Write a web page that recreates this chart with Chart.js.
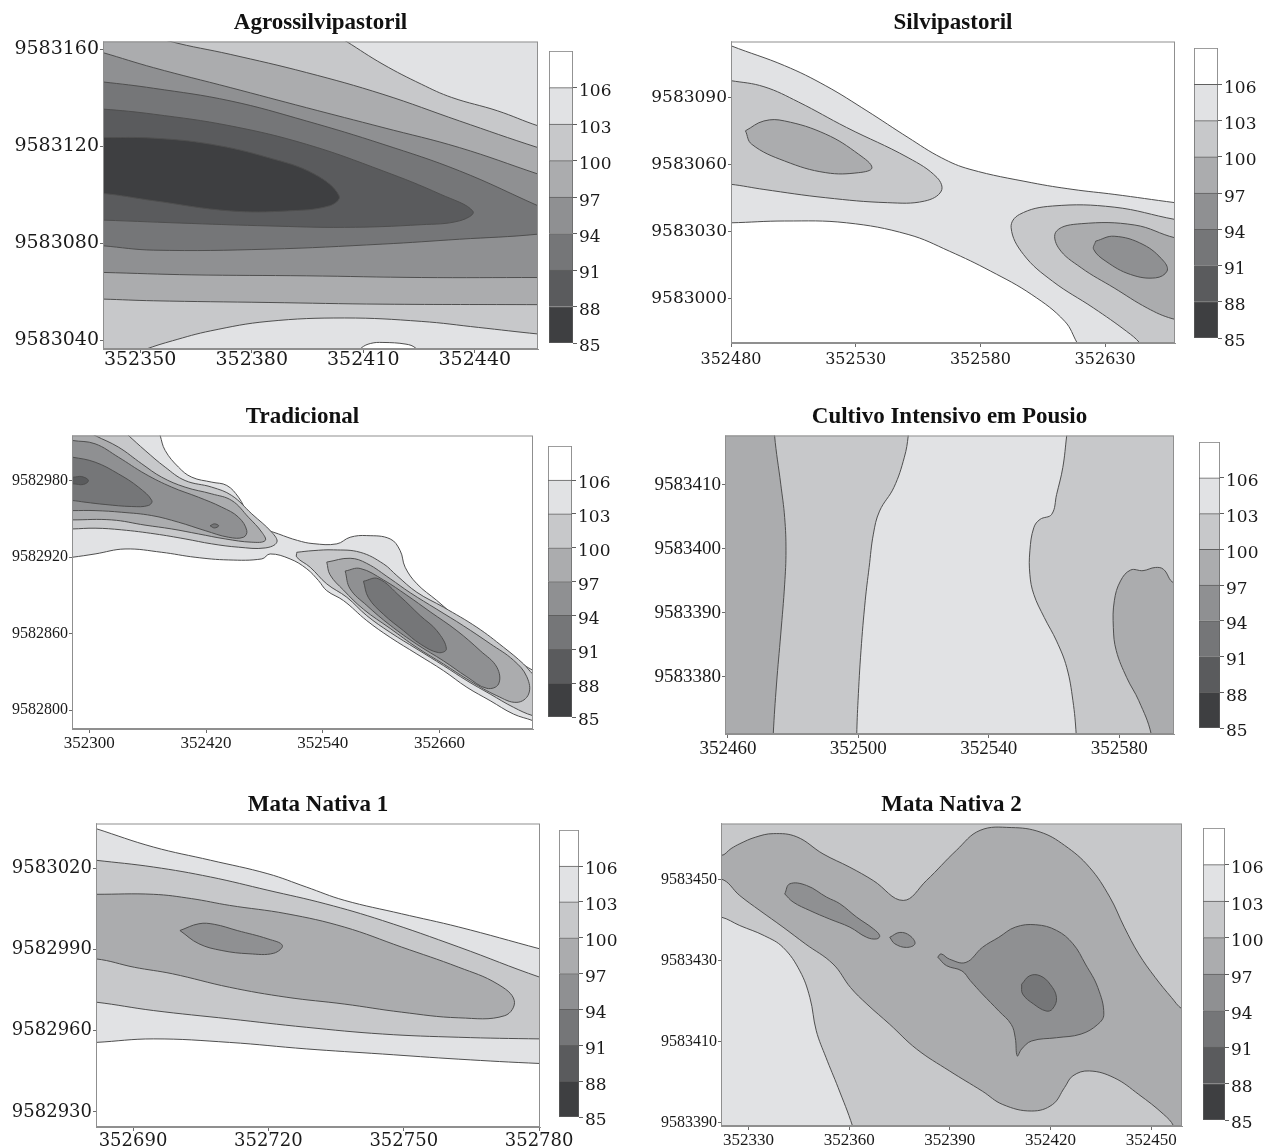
<!DOCTYPE html>
<html>
<head>
<meta charset="utf-8">
<title>Contour maps</title>
<script src="https://cdn.jsdelivr.net/npm/chart.js@4.4.1/dist/chart.umd.min.js"></script>
<style>
  body { margin: 0; background: #fff; width: 1266px; height: 1148px; position: relative; overflow: hidden; }
  canvas { position: absolute; }
</style>
</head>
<body>
<script>
// ---- data: contour regions in map coordinates (x = easting, y = northing) ----
// each shape is the region of one band, painted in list order over the base band

const cbLevels = [85, 88, 91, 94, 97, 100, 103, 106];
const cbTop = 109;

// Agrossilvipastoril
const agroXTicks = [352350, 352380, 352410, 352440];
const agroYTicks = [9583040, 9583080, 9583120, 9583160];
const agroRange = [352340, 352457, 9583036.3, 9583163.2];
const agroBase = 103;
const agroLevels = [106, 100, 97, 94, 91, 88, 85];
const agroShapes = [
  [[352407,9583033],[352409.5,9583036.8],[352412,9583038.6],[352415.3,9583039.0],[352421.5,9583038.3],[352424,9583036.8],[352426,9583033]],
  [[352330,9583175],[352398,9583175],[352401,9583167.5],[352405.5,9583163.2],[352415.3,9583153.8],[352425.6,9583145.6],[352433.8,9583140.1],[352446.1,9583134.6],[352457,9583128.4],[352465,9583125],[352470,9583100],[352465,9583041.5],[352457,9583042.5],[352441,9583045.2],[352425.6,9583047.7],[352405,9583049.1],[352384.4,9583047.7],[352369,9583043.8],[352358.7,9583039.7],[352351.5,9583036.2],[352345,9583032],[352330,9583025]],
  [[352330,9583175],[352350,9583175],[352354,9583166],[352358.2,9583163.2],[352374.2,9583157.9],[352394.7,9583150.4],[352415.3,9583141.4],[352435.9,9583130.4],[352457,9583119.4],[352465,9583116],[352470,9583090],[352465,9583054.5],[352457,9583054.6],[352415.3,9583054.8],[352384.4,9583055.5],[352353.6,9583056.2],[352340,9583056.9],[352332,9583057.2],[352325,9583070]],
  [[352325,9583165],[352332,9583162],[352340,9583158.6],[352353.6,9583152.4],[352374.2,9583144.2],[352394.7,9583135.9],[352415.3,9583127.7],[352435.9,9583119.4],[352457,9583108.5],[352465,9583104.5],[352470,9583085],[352465,9583065.8],[352457,9583065.8],[352425.6,9583065.8],[352394.7,9583066.5],[352363.9,9583066.9],[352340,9583067.9],[352332,9583068.2],[352325,9583100]],
  [[352325,9583150],[352332,9583147.6],[352340,9583146.5],[352353.6,9583143.9],[352374.2,9583138.7],[352394.7,9583130.4],[352415.3,9583120.8],[352435.9,9583109.8],[352457,9583095.4],[352465,9583090],[352465,9583086],[352457,9583083.7],[352435.9,9583081.6],[352415.3,9583079.6],[352384.4,9583077.5],[352353.6,9583077.1],[352340,9583078.9],[352332,9583080],[352325,9583110]],
  [[352330,9583136],[352340,9583135.3],[352353.6,9583133.2],[352374.2,9583128.4],[352394.7,9583120.8],[352415.3,9583109.8],[352430.7,9583100.2],[352439.5,9583093.1],[352435.9,9583089.2],[352425.6,9583087.6],[352405,9583086.5],[352384.4,9583087.1],[352363.9,9583088.1],[352340,9583089.5],[352330,9583090]],
  [[352330,9583124],[352340,9583123.6],[352353.6,9583123.3],[352369,9583120.8],[352384.4,9583115.3],[352396.8,9583108.5],[352403.5,9583099.5],[352400.9,9583095.4],[352389.6,9583093.3],[352374.2,9583093.3],[352353.6,9583097.5],[352340,9583100.5],[352330,9583101]]
];

// Silvipastoril
const silviXTicks = [352480, 352530, 352580, 352630];
const silviYTicks = [9583000, 9583030, 9583060, 9583090];
const silviRange = [352480, 352658, 9582980.3, 9583115];
const silviBase = 106;
const silviLevels = [103, 100, 97, 100, 97, 94];
const silviShapes = [
  [[352470,9583118],[352480,9583113.1],[352501.5,9583104.2],[352518,9583095.2],[352534.5,9583084.0],[352551,9583072.1],[352564.3,9583063.1],[352575.8,9583057.9],[352600.6,9583051.9],[352617.1,9583048.9],[352633.6,9583046.7],[352658,9583043.0],[352666,9583042],[352670,9583000],[352665,9582970],[352623,9582970],[352621.3,9582975.5],[352618.8,9582980.3],[352613.8,9582990.0],[352600.6,9583001.9],[352584.1,9583012.4],[352567.6,9583021.3],[352551,9583028.8],[352526.3,9583034.0],[352501.5,9583034.8],[352480,9583034.0],[352470,9583034],[352465,9583080]],
  [[352470,9583099],[352480,9583097.5],[352493.2,9583094.8],[352507,9583088],[352526.3,9583076.6],[352551,9583063.1],[352562.6,9583054.2],[352564.3,9583048.2],[352557.6,9583043.7],[352542.8,9583043.0],[352518,9583045.2],[352493.2,9583048.9],[352480,9583051.2],[352470,9583052]],
  [[352485.8,9583075.1],[352493.2,9583079.5],[352501.5,9583079.5],[352518,9583073.6],[352531.2,9583064.6],[352536.5,9583058.6],[352531.2,9583056.4],[352518,9583056.4],[352501.5,9583061.6],[352488.3,9583069.1],[352485.8,9583075.1]],
  [[352668,9583034],[352658,9583035.5],[352633.6,9583041.0],[352608.9,9583041.5],[352595.6,9583037.7],[352592.3,9583031.8],[352597.3,9583019.8],[352608.9,9583007.9],[352625.4,9582995.9],[352638.6,9582985.5],[352643.9,9582980.3],[352646,9582976],[352668,9582970]],
  [[352668,9583026],[352658,9583027.3],[352641.9,9583033.0],[352620.4,9583033.6],[352610.5,9583030.3],[352611.3,9583022.8],[352620.4,9583013.9],[352633.6,9583004.9],[352646.9,9582995.9],[352656.8,9582991.2],[352668,9582989]],
  [[352626.2,9583025.8],[352633.6,9583028.0],[352645.2,9583024.3],[352653.5,9583016.8],[352654.8,9583012.4],[352650.2,9583009.4],[352640.2,9583010.9],[352630.3,9583016.8],[352625.4,9583022.1],[352626.2,9583025.8]]
];

// Tradicional
const tradXTicks = [352300, 352420, 352540, 352660];
const tradYTicks = [9582800, 9582860, 9582920, 9582980];
const tradRange = [352282.3, 352756, 9582785.1, 9583015.3];
const tradBase = 106;
const tradLevels = [103, 100, 97, 94, 91, 88, 91, 100, 97, 94, 91];
const tradShapes = [
  [[352272,9583025],[352369,9583025],[352372.8,9583015.5],[352378,9583003.6],[352391.7,9582990.5],[352405.4,9582982.6],[352426,9582978.7],[352441.4,9582976.1],[352453.4,9582966.9],[352463.6,9582953.8],[352477.4,9582943.4],[352494.5,9582938.1],[352514,9582933],[352530,9582930.5],[352554.4,9582930.3],[352568.1,9582935.5],[352585.2,9582936.8],[352609.2,9582934.2],[352619.5,9582925],[352624.6,9582912],[352636.7,9582899],[352657,9582886],[352677.8,9582872.7],[352698.3,9582862.2],[352718.9,9582851.8],[352739.5,9582838.7],[352756,9582831],[352766,9582826],[352770,9582800],[352766,9582788],[352756,9582791.6],[352736,9582796.8],[352712,9582807.3],[352688.1,9582817.8],[352664.1,9582830.8],[352636.7,9582843.9],[352609.2,9582857],[352585.2,9582870.1],[352561.3,9582885.8],[352544.1,9582893.6],[352535.6,9582901.5],[352523.6,9582910.7],[352506.4,9582918.5],[352485.9,9582922.4],[352477.4,9582918.5],[352443.1,9582917.7],[352408.8,9582919.8],[352374.5,9582923.7],[352336.8,9582926.3],[352306,9582922.4],[352282.7,9582919.8],[352272,9582919]],
  [[352272,9583025],[352326,9583025],[352340.3,9583015.3],[352357.4,9583003.6],[352378,9582990.5],[352398.5,9582980.0],[352425.9,9582974.8],[352446.5,9582968.2],[352467.1,9582953.8],[352487.6,9582939.4],[352492.8,9582931.6],[352480.8,9582927.1],[352453.4,9582927.7],[352425.9,9582930.3],[352398.5,9582934.2],[352367.7,9582938.1],[352333.4,9582941.3],[352306,9582942.6],[352282.7,9582942.0],[352272,9582942]],
  [[352272,9583025],[352285,9583024],[352306,9583015.3],[352330,9583006.2],[352354,9582993.1],[352374.5,9582982.6],[352398.5,9582974.8],[352425.9,9582969.5],[352446.5,9582964.3],[352463.6,9582951.2],[352477.4,9582939.4],[352480.8,9582932.9],[352467.1,9582931.6],[352439.7,9582934.2],[352412.2,9582938.1],[352384.8,9582942.0],[352357.4,9582945.0],[352323.1,9582949.1],[352282.7,9582949.1],[352272,9582949]],
  [[352272,9583013],[352282.7,9583011.4],[352306,9583008.8],[352330,9582998.3],[352357.4,9582985.2],[352384.8,9582974.8],[352412.2,9582966.9],[352436.2,9582959.1],[352453.4,9582951.2],[352461.9,9582940.7],[352458.5,9582935.5],[352443.1,9582935.5],[352419.1,9582940.7],[352391.7,9582947.3],[352364.3,9582952.5],[352333.4,9582955.1],[352306,9582956.4],[352282.7,9582956.4],[352272,9582956.4]],
  [[352272,9582999],[352282.7,9582998.3],[352306,9582994.4],[352330,9582985.2],[352350.6,9582974.8],[352364.3,9582964.3],[352360.8,9582960.4],[352343.7,9582959.6],[352316.3,9582961.2],[352295.7,9582963.0],[352282.7,9582964.3],[352272,9582964.5]],
  [[352276,9582983],[352283.7,9582982.6],[352292.3,9582983.1],[352299.2,9582980.0],[352294,9582976.9],[352283.7,9582977.4],[352276,9582977.5]],
  [[352424.2,9582944.5],[352428.7,9582946],[352433,9582944.5],[352428.7,9582942.8],[352424.2,9582944.5]],
  [[352513.3,9582923.7],[352530,9582925],[352551.0,9582925.6],[352578.4,9582923.7],[352602.4,9582914.6],[352616.1,9582905.4],[352636.7,9582892.3],[352664.1,9582880.6],[352698.3,9582864.9],[352725.8,9582849.2],[352746.3,9582836.1],[352756,9582828],[352766,9582822],[352766,9582795],[352756,9582795.5],[352736.0,9582802.1],[352712.0,9582812.5],[352688.1,9582823.0],[352664.1,9582834.8],[352636.7,9582847.8],[352609.2,9582860.9],[352585.2,9582874.0],[352564.7,9582888.4],[352544.1,9582898.9],[352527.0,9582912.0],[352513.3,9582919.8],[352513.3,9582923.7]],
  [[352544.1,9582916],[352568.1,9582919],[352585.2,9582915],[352609.2,9582903],[352629.8,9582892],[352657.2,9582879],[352684.6,9582866],[352712.0,9582852],[352736.0,9582839],[352749.7,9582826],[352751.5,9582812.5],[352739.5,9582806.0],[352718.9,9582811.2],[352691.5,9582822.7],[352664.1,9582836],[352636.7,9582849],[352609.2,9582864],[352581.8,9582879],[352561.3,9582894],[352547.5,9582906],[352544.1,9582916]],
  [[352563.0,9582909],[352578.4,9582911],[352602.4,9582902],[352626.4,9582890],[352650.4,9582877],[352677.8,9582862.2],[352701.8,9582846.5],[352718.9,9582833.5],[352720.6,9582820.4],[352708.6,9582817],[352688.1,9582826],[352664.1,9582838.5],[352636.7,9582851.5],[352609.2,9582866.5],[352585.2,9582882],[352568.1,9582895],[352563.0,9582909]],
  [[352581.8,9582901],[352597,9582903],[352619.5,9582889],[352640.1,9582874],[352657.2,9582862.2],[352667,9582848],[352659,9582845],[352640.1,9582851.8],[352622.9,9582862.2],[352602.4,9582875],[352587.0,9582888],[352581.8,9582901]]
];

// Cultivo Intensivo em Pousio
const cultXTicks = [352460, 352500, 352540, 352580];
const cultYTicks = [9583380, 9583390, 9583400, 9583410];
const cultRange = [352459.1, 352596.8, 9583371.1, 9583417.7];
const cultBase = 103;
const cultLevels = [100, 97, 100, 97];
const cultShapes = [
  [[352450,9583425],[352516.5,9583425],[352515.3,9583417.7],[352514.1,9583414.3],[352510.9,9583409.6],[352506.5,9583405.9],[352504.6,9583402.3],[352503.3,9583397.1],[352502.1,9583391.9],[352500.8,9583384.1],[352499.9,9583376.3],[352499.5,9583371.1],[352499.3,9583365],[352450,9583365]],
  [[352450,9583425],[352473.5,9583425],[352474.3,9583417.7],[352476.2,9583410.1],[352477.4,9583404.9],[352477.8,9583399.7],[352477.4,9583394.5],[352476.2,9583386.7],[352474.9,9583378.9],[352473.9,9583371.1],[352473.5,9583365],[352450,9583365]],
  [[352564.5,9583425],[352605,9583425],[352605,9583365],[352567.3,9583365],[352566.8,9583371.1],[352565.8,9583376.3],[352563.9,9583381.5],[352560.8,9583385.6],[352557.0,9583389.3],[352553.8,9583392.9],[352552.6,9583396.0],[352552.6,9583399.7],[352553.8,9583403.3],[352555.7,9583404.6],[352559.3,9583405.4],[352560.8,9583408.5],[352562.7,9583412.7],[352563.9,9583417.7]],
  [[352605,9583394.7],[352596.8,9583394.7],[352593.6,9583396.8],[352591.1,9583397.1],[352587.3,9583396.6],[352583.5,9583396.7],[352580.4,9583395.0],[352578.5,9583391.9],[352578.2,9583387.7],[352579.1,9583384.1],[352582.3,9583379.9],[352586.0,9583376.3],[352589.8,9583371.1],[352591,9583365],[352605,9583365]]
];

// Mata Nativa 1
const mata1XTicks = [352690, 352720, 352750, 352780];
const mata1YTicks = [9582930, 9582960, 9582990, 9583020];
const mata1Range = [352681.8, 352780.2, 9582924.4, 9583036.7];
const mata1Base = 106;
const mata1Levels = [103, 100, 97, 94];
const mata1Shapes = [
  [[352672,9583040],[352681.8,9583034.8],[352694.5,9583028.0],[352707.2,9583023.1],[352719.9,9583018.1],[352728.4,9583013.2],[352736.8,9583008.3],[352749.5,9583003.3],[352762.2,9582998.4],[352780.2,9582990.3],[352790,9582986],[352790,9582947.5],[352780.2,9582947.9],[352762.2,9582949.5],[352745.3,9582951.4],[352728.4,9582953.3],[352711.4,9582955.7],[352694.5,9582957.0],[352681.8,9582955.7],[352672,9582955]],
  [[352672,9583025],[352681.8,9583023.1],[352694.5,9583020.6],[352707.2,9583016.9],[352719.9,9583012.0],[352732.6,9583007.0],[352745.3,9583000.8],[352762.2,9582991.0],[352780.2,9582979.8],[352790,9582975],[352790,9582957],[352780.2,9582957.0],[352762.2,9582957.6],[352745.3,9582958.8],[352728.4,9582961.3],[352711.4,9582964.4],[352694.5,9582967.5],[352681.8,9582970.6],[352672,9582972]],
  [[352672,9583010.5],[352681.8,9583010.5],[352694.5,9583010.5],[352703.0,9583008.9],[352711.4,9583006.4],[352724.1,9583003.3],[352736.8,9582998.4],[352749.5,9582991.0],[352762.2,9582983.5],[352770.7,9582977.4],[352774.5,9582971.2],[352772.4,9582965.6],[352762.2,9582964.8],[352749.5,9582966.9],[352736.8,9582969.9],[352724.1,9582972.4],[352711.4,9582976.1],[352698.7,9582981.1],[352690.3,9582983.5],[352681.8,9582986.6],[352672,9582987]],
  [[352700.4,9582997.1],[352704.6,9582999.6],[352708.0,9582999.4],[352713.1,9582997.1],[352719.9,9582994.0],[352723.1,9582991.6],[352721.2,9582988.7],[352715.7,9582988.5],[352709.7,9582989.7],[352704.6,9582992.2],[352700.4,9582997.1]]
];

// Mata Nativa 2
const mata2XTicks = [352330, 352360, 352390, 352420, 352450];
const mata2YTicks = [9583390, 9583410, 9583430, 9583450];
const mata2Range = [352321.8, 352459.2, 9583389.2, 9583463.9];
const mata2Base = 100;
const mata2Levels = [103, 97, 94, 94, 94, 91];
const mata2Shapes = [
  [[352312,9583442],[352321.8,9583440.8],[352327.4,9583438.7],[352334.7,9583436.2],[352340.3,9583433.3],[352345.3,9583427.5],[352348.3,9583420.9],[352350.2,9583412.7],[352353.1,9583406.1],[352356.7,9583398.7],[352361.0,9583389.2],[352362.5,9583384],[352312,9583384]],
  [[352312,9583457],[352321.8,9583456.0],[352324.8,9583457.7],[352327.4,9583458.9],[352332,9583460.5],[352337.4,9583461.4],[352344.4,9583460.6],[352352.2,9583456.4],[352360.2,9583453.1],[352367.2,9583449.8],[352376.1,9583444.9],[352383.0,9583449.8],[352392.0,9583457.3],[352399.0,9583462.2],[352408.3,9583462.9],[352416.9,9583461.8],[352424.2,9583458.5],[352431.6,9583453.1],[352437.7,9583445.7],[352442.0,9583438.3],[352446.3,9583431.7],[352451.2,9583425.9],[352456.1,9583420.9],[352459.2,9583418.1],[352468,9583414],[352468,9583385],[352458,9583385],[352456.7,9583389.2],[352453.7,9583392.1],[352446.3,9583397.0],[352439.0,9583401.1],[352431.6,9583402.8],[352426.7,9583401.6],[352424.2,9583398.7],[352420.6,9583394.5],[352414.4,9583392.9],[352405.8,9583394.5],[352399.7,9583397.8],[352389.9,9583402.8],[352380.1,9583408.2],[352372.1,9583414.3],[352365.3,9583419.3],[352360.4,9583423.4],[352355.2,9583429.2],[352346.9,9583434.2],[352340.3,9583438.3],[352333.4,9583442.4],[352327.4,9583446.1],[352321.8,9583450.2],[352312,9583450]],
  [[352340.8,9583446.5],[352342.3,9583449.0],[352347.3,9583448.6],[352353.3,9583445.7],[352357.2,9583444.1],[352362.2,9583440.8],[352367.2,9583437.9],[352369.1,9583436.2],[352368.2,9583435.4],[352365.2,9583435.8],[352360.2,9583438.3],[352354.2,9583440.3],[352348.3,9583442.4],[352343.3,9583444.5],[352340.8,9583446.5]],
  [[352372.1,9583435.8],[352375.1,9583437.0],[352378.1,9583436.2],[352379.6,9583434.2],[352377.1,9583433.3],[352373.6,9583434.2],[352372.1,9583435.8]],
  [[352386.4,9583430.9],[352387.4,9583431.7],[352389.9,9583430.4],[352394.8,9583429.6],[352399.7,9583433.3],[352404.6,9583435.8],[352409.5,9583438.3],[352415.6,9583438.9],[352421.8,9583437.5],[352426.7,9583434.2],[352430.4,9583429.2],[352434.1,9583423.4],[352435.9,9583416.8],[352434.1,9583414.3],[352429.1,9583411.9],[352421.8,9583411.0],[352414.4,9583410.2],[352411.4,9583408.2],[352410.1,9583406.5],[352409.5,9583411.0],[352408.3,9583414.3],[352404.6,9583417.6],[352399.7,9583421.8],[352396.1,9583425.1],[352393.6,9583427.5],[352389.0,9583428.8],[352386.4,9583430.9]],
  [[352411.4,9583424.2],[352413.8,9583426.3],[352416.9,9583426.3],[352419.9,9583424.2],[352421.8,9583420.9],[352420.6,9583418.1],[352418.7,9583417.6],[352415.0,9583419.3],[352411.7,9583421.8],[352411.4,9583424.2]]
];

// ---- styles ----
const palette = {
  85: '#3e3f41', 88: '#5a5b5d', 91: '#757678', 94: '#8f9092',
  97: '#abacae', 100: '#c7c8ca', 103: '#e1e2e4', 106: '#ffffff'
};
const lineColor = '#4f4f4f';
const frameColor = '#8f8f8f';
const textColor = '#1a1a1a';

Chart.defaults.animation = false;
Chart.defaults.font.family = 'Liberation Serif';
Chart.defaults.color = textColor;

const panels = [
  { title: 'Agrossilvipastoril', xt: agroXTicks, yt: agroYTicks, range: agroRange, base: agroBase, levels: agroLevels, shapes: agroShapes,
    plot: [103, 41, 538, 348], cb: [549, 51, 573, 343], xpad: -4,
    fx: {family: 'DejaVu Serif', size: 19}, fy: {family: 'DejaVu Serif', size: 19} },
  { title: 'Silvipastoril', xt: silviXTicks, yt: silviYTicks, range: silviRange, base: silviBase, levels: silviLevels, shapes: silviShapes,
    plot: [731, 41, 1175, 342], cb: [1194, 48, 1218, 338], xpad: 3,
    fx: {family: 'DejaVu Serif', size: 16}, fy: {family: 'DejaVu Serif', size: 17} },
  { title: 'Tradicional', xt: tradXTicks, yt: tradYTicks, range: tradRange, base: tradBase, levels: tradLevels, shapes: tradShapes,
    plot: [72, 435, 533, 728], cb: [548, 446, 572, 717], xpad: 0,
    fx: {family: 'Liberation Serif', size: 17}, fy: {family: 'Liberation Serif', size: 16} },
  { title: 'Cultivo Intensivo em Pousio', xt: cultXTicks, yt: cultYTicks, range: cultRange, base: cultBase, levels: cultLevels, shapes: cultShapes,
    plot: [725, 435, 1174, 733], cb: [1199, 442, 1220, 728], xpad: 0,
    fx: {family: 'Liberation Serif', size: 19}, fy: {family: 'Liberation Serif', size: 19} },
  { title: 'Mata Nativa 1', xt: mata1XTicks, yt: mata1YTicks, range: mata1Range, base: mata1Base, levels: mata1Levels, shapes: mata1Shapes,
    plot: [96, 823, 540, 1126], cb: [559, 830, 579, 1117], xpad: 0,
    fx: {family: 'DejaVu Serif', size: 18}, fy: {family: 'DejaVu Serif', size: 18} },
  { title: 'Mata Nativa 2', xt: mata2XTicks, yt: mata2YTicks, range: mata2Range, base: mata2Base, levels: mata2Levels, shapes: mata2Shapes,
    plot: [721, 823, 1182, 1125], cb: [1203, 828, 1225, 1120], xpad: 0,
    fx: {family: 'Liberation Serif', size: 17}, fy: {family: 'Liberation Serif', size: 16} }
];

// grey frame round the plot area
const framePlugin = {
  id: 'frame',
  afterDatasetsDraw(chart) {
    const {ctx, chartArea: a} = chart;
    ctx.save();
    ctx.strokeStyle = frameColor;
    ctx.lineWidth = 1;
    ctx.strokeRect(a.left + 0.5, a.top + 0.5, a.width - 1, a.height - 1);
    ctx.restore();
  }
};

function addCanvas(left, top, w, h) {
  const c = document.createElement('canvas');
  c.width = w; c.height = h;
  c.style.left = left + 'px';
  c.style.top = top + 'px';
  c.style.width = w + 'px';
  c.style.height = h + 'px';
  document.body.appendChild(c);
  return c;
}

function drawPanel(p) {
  const [L, T, R, B] = p.plot;
  const yW = Math.min(100, L - 2);
  const padT = 2, titleH = 29.5, xH = 28, padR = 40;
  const canvas = addCanvas(L - yW, Math.round(T - padT - titleH), yW + (R - L) + padR, Math.round(padT + titleH + (B - T) + xH));
  const [xmin, xmax, ymin, ymax] = p.range;
  const shapes = [[[xmin, ymin], [xmax, ymin], [xmax, ymax], [xmin, ymax]], ...p.shapes];
  const levels = [p.base, ...p.levels];
  const n = shapes.length;
  const datasets = shapes.map((pts, i) => ({
    data: pts.map(([x, y]) => ({x, y})),
    showLine: true,
    fill: 'shape',
    backgroundColor: palette[levels[i]],
    borderColor: i === 0 ? 'rgba(0,0,0,0)' : lineColor,
    borderWidth: i === 0 ? 0 : 1,
    pointRadius: 0,
    tension: i === 0 ? 0 : 0.4,
    clip: 0,
    order: n - i
  }));

  new Chart(canvas, {
    type: 'scatter',
    data: { datasets },
    options: {
      responsive: false,
      layout: { padding: { left: 0, top: padT, right: padR, bottom: 0 } },
      elements: { line: { capBezierPoints: false } },
      plugins: {
        legend: { display: false },
        tooltip: { enabled: false },
        title: {
          display: true, text: p.title, fullSize: false, color: '#111',
          font: { family: 'Liberation Serif', size: 23, weight: 'bold', lineHeight: 1 },
          padding: { top: 0, bottom: 6.5 }
        }
      },
      scales: {
        x: {
          type: 'linear', min: xmin, max: xmax,
          afterBuildTicks: s => { s.ticks = p.xt.map(v => ({value: v})); },
          afterFit: s => { s.height = xH; },
          ticks: { callback: v => String(v), font: p.fx, color: textColor, padding: p.xpad, maxRotation: 0, autoSkip: false },
          grid: { drawOnChartArea: false, drawTicks: true, tickLength: 4, color: '#6a6a6a' },
          border: { display: true, color: frameColor }
        },
        y: {
          type: 'linear', min: ymin, max: ymax,
          afterBuildTicks: s => { s.ticks = p.yt.map(v => ({value: v})); },
          afterFit: s => { s.width = yW; },
          ticks: { callback: v => String(v), font: p.fy, color: textColor, padding: 1, autoSkip: false },
          grid: { drawOnChartArea: false, drawTicks: true, tickLength: 3, color: '#6a6a6a' },
          border: { display: true, color: frameColor }
        }
      }
    },
    plugins: [framePlugin]
  });
}

function drawColorbar(cb) {
  const [L, T, R, B] = cb;
  const labW = 50, padT = 12, padB = 14;
  const canvas = addCanvas(L, T - padT, (R - L) + labW, (B - T) + padT + padB);
  const datasets = cbLevels.map((lv, i) => ({
    data: [[lv, i + 1 < cbLevels.length ? cbLevels[i + 1] : cbTop]],
    backgroundColor: palette[lv],
    borderColor: '#5f5f5f',
    borderWidth: { top: 1, left: 1, right: 1, bottom: i === 0 ? 1 : 0 },
    borderSkipped: false,
    grouped: false,
    barPercentage: 1,
    categoryPercentage: 1
  }));
  new Chart(canvas, {
    type: 'bar',
    data: { labels: [''], datasets },
    options: {
      responsive: false,
      layout: { padding: { left: 0, right: 0, top: padT, bottom: padB } },
      plugins: { legend: { display: false }, tooltip: { enabled: false } },
      scales: {
        x: { display: false },
        y: {
          position: 'right', min: cbLevels[0], max: cbTop,
          afterBuildTicks: s => { s.ticks = cbLevels.map(v => ({value: v})); },
          afterFit: s => { s.width = labW; },
          ticks: { callback: v => String(v), font: { family: 'DejaVu Serif', size: 17 }, color: textColor, padding: 2, labelOffset: 4 },
          grid: { drawOnChartArea: false, drawTicks: true, tickLength: 4, color: '#5f5f5f' },
          border: { display: false }
        }
      }
    }
  });
}

window.addEventListener('DOMContentLoaded', () => {
  panels.forEach(p => { drawPanel(p); drawColorbar(p.cb); });
});
</script>
</body>
</html>
